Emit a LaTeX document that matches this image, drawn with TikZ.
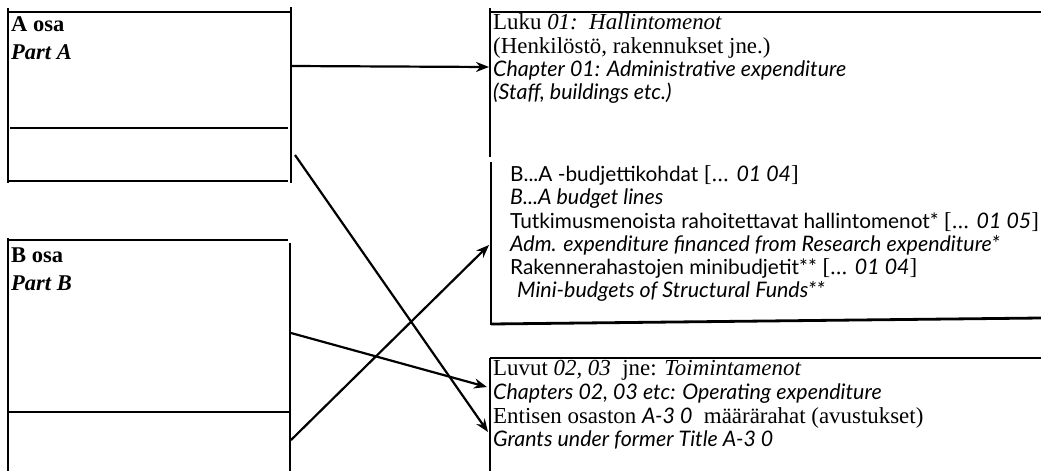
\documentclass[tikz,border=0pt]{standalone}
\usepackage{fontspec}
\setmainfont{Liberation Serif}
\newfontfamily\opt{Lato}
\usetikzlibrary{arrows.meta}
\newcommand{\oi}[1]{{\fontsize{21.4}{24}\selectfont\opt\itshape #1}}
\newcommand{\orm}[1]{{\fontsize{20.8}{24}\selectfont\opt #1}}
\newcommand{\si}[1]{{\itshape #1}}
\begin{document}
\begin{tikzpicture}[x=1pt,y=-1pt,
  edge/.style={line width=2.8pt},
  conn/.style={line width=2.2pt,-{Stealth[length=13pt,width=10pt]}},
  txt/.style={anchor=base west,inner sep=0pt,font=\fontsize{22.9}{24}\selectfont},
  ltxt/.style={anchor=base west,inner sep=0pt,font=\fontsize{22.5}{24}\selectfont\bfseries}]
\useasboundingbox (0,0) rectangle (1041,471);
% left box A
\draw[edge] (8,12) -- (291,12);
\draw[edge] (10,128) -- (288,128);
\draw[edge] (8,181) -- (288,181);
\draw[edge] (8,8) -- (8,183);
\draw[edge] (291,7) -- (291,183);
% left box B
\draw[edge] (8,240) -- (288,240);
\draw[edge] (8,238) -- (8,471);
\draw[edge] (8,412) -- (290,412);
\draw[edge] (290,243) -- (290,471);
% right box 1
\draw[edge] (490,8) -- (490,157);
\draw[edge] (490,12) -- (1041,12);
% right box 2
\draw[edge] (491,162) -- (491,325);
\draw[edge] (491,324) -- (1041,318);
% right box 3
\draw[edge] (490,358) -- (1041,358);
\draw[edge] (490,358) -- (490,471);
% texts left
\node[ltxt] (aosa) at (11,31) {A osa};
\node[ltxt] (parta) at (11,59) {\itshape Part A};
\node[ltxt] (bosa) at (11,262) {B osa};
\node[ltxt] (partb) at (11,290) {\itshape Part B};
% texts right box 1
\node[txt] (r1a) at (493,29) {Luku \si{01:\ \ Hallintomenot}};
\node[txt] (r1b) at (493,53) {(Henkilöstö, rakennukset jne.)};
\node[txt] (r1c) at (493,76) {\oi{Chapter 01: Administrative expenditure}};
\node[txt] (r1d) at (493,99) {\oi{(Staff, buildings etc.)}};
% texts right box 2
\node[txt] (r2a) at (510,181) {\orm{B...A -budjettikohdat} [... \oi{01 04}]};
\node[txt] (r2b) at (510,204) {\oi{B...A budget lines}};
\node[txt] (r2c) at (510,228) {\orm{Tutkimusmenoista rahoitettavat hallintomenot*} [... \oi{01 05}]};
\node[txt] (r2d) at (510,251) {\oi{Adm. expenditure financed from Research expenditure*}};
\node[txt] (r2e) at (510,274) {\orm{Rakennerahastojen minibudjetit**} [... \oi{01 04}]};
\node[txt] (r2f) at (517,297) {\oi{Mini-budgets of Structural Funds**}};
% texts right box 3
\node[txt] (r3a) at (493,375) {Luvut \si{02, 03}\ \ jne: \si{Toimintamenot}};
\node[txt] (r3b) at (493,399) {\oi{Chapters 02, 03 etc: Operating expenditure}};
\node[txt] (r3c) at (493,423) {Entisen osaston \oi{A-3 0}\ \ määrärahat (avustukset)};
\node[txt] (r3d) at (493,446) {\oi{Grants under former Title A-3 0}};
% connector end points
\coordinate (s1) at (291,66);
\coordinate (e1) at (489,67);
\coordinate (s2) at (295,155);
\coordinate (e2) at (488,432);
\coordinate (s3) at (291,333);
\coordinate (e3) at (487,387);
\coordinate (s4) at (291,440);
\coordinate (e4) at (489,245);
\draw[conn] (s1) -- (e1);
\draw[conn] (s2) -- (e2);
\draw[conn] (s3) -- (e3);
\draw[conn] (s4) -- (e4);
\end{tikzpicture}
\end{document}
